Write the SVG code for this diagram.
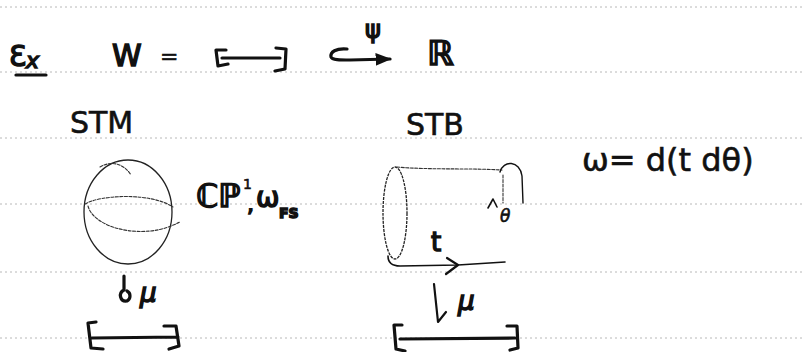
<svg xmlns="http://www.w3.org/2000/svg" width="805" height="352" viewBox="0 0 805 352">
  <defs>
    <style>
      .hand { font-family: "DejaVu Sans", "Liberation Sans", sans-serif; fill: #111; stroke: #111; stroke-width: 0.6; }
      .heavy { stroke-width: 1.5; }
      .rule { stroke: #b8b8b8; stroke-width: 1; stroke-dasharray: 2 3; fill: none; }
      .ink { stroke: #111; fill: none; stroke-linecap: round; stroke-linejoin: round; }
      .thin { stroke: #333; fill: none; stroke-width: 1.1; stroke-dasharray: 3 1.5; stroke-linecap: round; }
      .bold { stroke-width: 3.2; }
      .mid { stroke-width: 2.2; }
    </style>
    <marker id="head" viewBox="0 0 10 10" refX="9" refY="5" markerWidth="5" markerHeight="5" orient="auto">
      <path d="M0,1 L10,5 L0,9 Z" fill="#111"/>
    </marker>
  </defs>

  <rect width="805" height="352" fill="#fff"/>

  <!-- ruled notebook lines -->
  <g id="rules">
    <line class="rule" x1="0" y1="7" x2="805" y2="7"/>
    <line class="rule" x1="0" y1="72" x2="805" y2="72"/>
    <line class="rule" x1="0" y1="138" x2="805" y2="138"/>
    <line class="rule" x1="0" y1="204" x2="805" y2="204"/>
    <line class="rule" x1="0" y1="272" x2="805" y2="272"/>
    <line class="rule" x1="0" y1="338" x2="805" y2="338"/>
  </g>

  <!-- heading: Ex  W = [interval] -> R -->
  <g id="example-label">
    <text class="hand heavy" x="9" y="66" font-size="28">Ɛ</text>
    <text class="hand heavy" x="26" y="68" font-size="22" font-style="italic">x</text>
    <path class="ink bold" d="M16,75 L46,75"/>
  </g>
  <g id="W-def">
    <text class="hand heavy" x="112" y="66" font-size="30">W</text>
    <text class="hand" x="160" y="64" font-size="22">=</text>
  </g>
  <g id="interval-top">
    <path class="ink bold" d="M226,50 L216,50 L218,66 L228,64 M222,58 L280,58 M276,48 L286,49 L285,69 L275,71"/>
  </g>
  <g id="reals">
    <text class="hand heavy" x="427" y="65" font-size="34">ℝ</text>
  </g>

  <!-- section titles -->
  <g id="STM">
    <text class="hand" x="70" y="133" font-size="30">STM</text>
  </g>
  <g id="STB">
    <text class="hand" x="406" y="135" font-size="30">STB</text>
  </g>

  <!-- sphere CP^1 -->
  <g id="sphere">
    <ellipse cx="128" cy="212" rx="44" ry="52" fill="none" stroke="#222" stroke-width="1.3"/>
    <path class="thin" d="M85,204 C100,195 150,192 173,207"/>
    <path class="thin" d="M88,206 C92,222 120,234 150,231 C162,230 172,226 180,222"/>
    <path class="thin" d="M100,167 C112,160 124,164 131,175"/>
    <text class="hand heavy" x="196" y="207" font-size="32">ℂℙ</text>
    <text class="hand" x="243" y="189" font-size="14">1</text>
    <text class="hand heavy" x="247" y="212" font-size="22">,</text>
    <text class="hand heavy" x="256" y="207" font-size="28">ω</text>
    <text class="hand heavy" x="279" y="218" font-size="14" font-weight="bold">FS</text>
  </g>

  <!-- cylinder T*S^1 -->
  <g id="cylinder">
    <ellipse cx="395" cy="213" rx="12" ry="46" fill="none" stroke="#222" stroke-width="1.3" stroke-dasharray="3 1"/>
    <path class="thin" d="M397,167 C430,170 470,168 502,170"/>
    <path class="ink" stroke-width="1.4" d="M500,172 C503,160 520,160 522,176 L523,203"/>
    <path class="thin" d="M503,175 L503,203"/>
    <path class="ink" stroke-width="1.6" d="M488,208 L493,199 L497,207"/>
    <text class="hand" x="500" y="222" font-size="17" font-style="italic">θ</text>
    <text class="hand heavy" x="431" y="251" font-size="26">t</text>
    <path class="ink" stroke-width="1.6" d="M388,256 C388,262 392,266 400,266 L458,265 L505,262"/>
    <path class="ink mid" d="M447,258 L458,265 L446,274"/>
  </g>

  <!-- symplectic form -->
  <g id="form">
    <text class="hand" x="582" y="171" font-size="32">ω= d(t dθ)</text>
  </g>

  <!-- moment map images -->
  <g id="interval-left">
    <path class="ink bold" d="M96,322 L88,323 L91,348 L103,349 M92,338 L178,337 M164,326 L176,326 L179,346 L169,349"/>
  </g>
  <g id="interval-right">
    <path class="ink bold" d="M402,325 L394,325 L396,349 L405,351 M400,339 L515,338 M507,326 L517,326 L518,348 L510,350"/>
  </g>

  <!-- maps between objects -->
  <g id="connectors">
    <path class="ink bold" d="M347,49 C336,48 330,52 331,57 C332,60 340,60 350,60 L390,59" marker-end="url(#head)"/>
    <text class="hand heavy" x="365" y="38" font-size="24">ψ</text>
    <path class="ink bold" d="M124,276 L124,290 C118,293 120,302 127,301 C131,299 131,293 127,291"/>
    <text class="hand heavy" x="140" y="302" font-size="26" font-style="italic">μ</text>
    <path class="ink mid" d="M434,284 L438,322 L446,312"/>
    <text class="hand heavy" x="458" y="310" font-size="26" font-style="italic">μ</text>
  </g>
</svg>
